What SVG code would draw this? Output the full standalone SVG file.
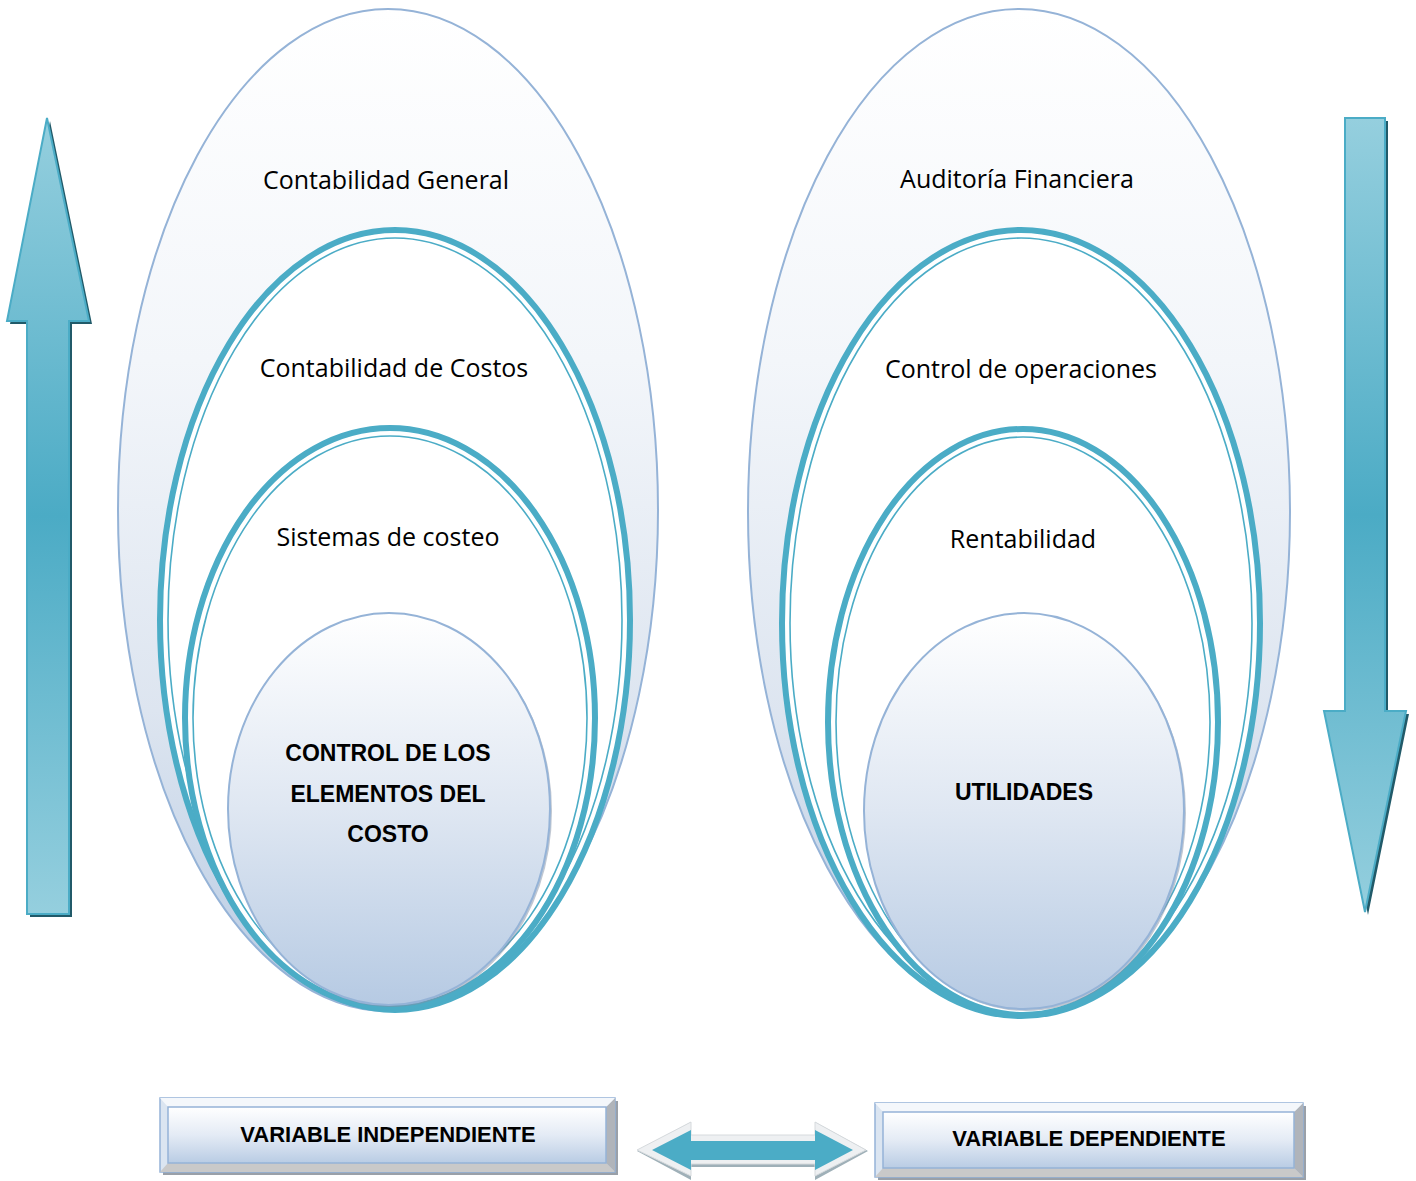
<svg xmlns="http://www.w3.org/2000/svg" width="1416" height="1181" viewBox="0 0 1416 1181">
<defs>
<linearGradient id="gOuter" x1="0" y1="0" x2="0" y2="1">
<stop offset="0" stop-color="#ffffff"/>
<stop offset="0.35" stop-color="#f3f6fa"/>
<stop offset="0.7" stop-color="#dde5f0"/>
<stop offset="1" stop-color="#b8cbe3"/>
</linearGradient>
<linearGradient id="gInner" x1="0" y1="0" x2="0" y2="1">
<stop offset="0" stop-color="#ffffff"/>
<stop offset="0.5" stop-color="#dfe7f2"/>
<stop offset="1" stop-color="#b6cae3"/>
</linearGradient>
<linearGradient id="gArrow" x1="0" y1="0" x2="0" y2="1">
<stop offset="0" stop-color="#95cfde"/>
<stop offset="0.5" stop-color="#4babc5"/>
<stop offset="1" stop-color="#95cfde"/>
</linearGradient>
<linearGradient id="gBox" x1="0" y1="0" x2="0" y2="1">
<stop offset="0" stop-color="#ffffff"/>
<stop offset="0.5" stop-color="#e4ebf5"/>
<stop offset="1" stop-color="#b9cce4"/>
</linearGradient>
<style>
.outer{fill:url(#gOuter);stroke:#95b3d7;stroke-width:2}
.dbl{fill:#ffffff;stroke:#4bacc6;stroke-width:6}
.dblin{fill:none;stroke:#4bacc6;stroke-width:1.6}
.inner{fill:url(#gInner);stroke:#95b3d7;stroke-width:2}
.lbl{font-family:"Open Sans","Liberation Sans",Arial,sans-serif;font-size:25px;fill:#000;text-anchor:middle}
.bold{font-family:"Liberation Sans",Arial,sans-serif;font-size:23px;font-weight:bold;fill:#000;text-anchor:middle}
.boxt{font-family:"Liberation Sans",Arial,sans-serif;font-size:22px;font-weight:bold;fill:#000;text-anchor:middle}
.arrow{fill:url(#gArrow);stroke:#4bacc6;stroke-width:2}
.shadow{fill:#215a69}
</style>
</defs>

<g id="arrow-up">
<polygon class="shadow" points="50,121 92,324 72,324 72,917 30,917 30,324 10,324"/>
<polygon class="arrow" points="47,118 89,321 69,321 69,914 27,914 27,321 7,321"/>
</g>

<g id="arrow-down">
<polygon class="shadow" points="1348,121 1388,121 1388,714 1409,714 1368,915 1327,714 1348,714"/>
<polygon class="arrow" points="1345,118 1385,118 1385,711 1406,711 1365,912 1324,711 1345,711"/>
</g>

<g id="left-contabilidad-general">
<ellipse class="outer" cx="388" cy="510" rx="270" ry="501"/>
<text class="lbl" x="386" y="189">Contabilidad General</text>
</g>
<g id="left-contabilidad-costos">
<ellipse class="dbl" cx="395" cy="620" rx="235" ry="390"/>
<ellipse class="dblin" cx="395" cy="620" rx="227" ry="382"/>
<text class="lbl" x="394" y="377">Contabilidad de Costos</text>
</g>
<g id="left-sistemas-costeo">
<ellipse class="dbl" cx="390" cy="718" rx="205" ry="290"/>
<ellipse class="dblin" cx="390" cy="718" rx="197" ry="282"/>
<text class="lbl" x="388" y="546">Sistemas de costeo</text>
</g>
<g id="left-control">
<ellipse cx="391" cy="811" rx="161" ry="196" fill="#7f8fa6" opacity="0.5"/>
<ellipse class="inner" cx="389" cy="809" rx="161" ry="196"/>
<text class="bold" x="388" y="761">CONTROL DE LOS</text>
<text class="bold" x="388" y="802">ELEMENTOS DEL</text>
<text class="bold" x="388" y="842">COSTO</text>
</g>

<g id="right-auditoria">
<ellipse class="outer" cx="1019" cy="512" rx="271" ry="503"/>
<text class="lbl" x="1017" y="188">Auditoría Financiera</text>
</g>
<g id="right-control-operaciones">
<ellipse class="dbl" cx="1021" cy="623" rx="239" ry="393"/>
<ellipse class="dblin" cx="1021" cy="623" rx="231" ry="385"/>
<text class="lbl" x="1021" y="378">Control de operaciones</text>
</g>
<g id="right-rentabilidad">
<ellipse class="dbl" cx="1023" cy="722" rx="195" ry="293"/>
<ellipse class="dblin" cx="1023" cy="722" rx="187" ry="285"/>
<text class="lbl" x="1023" y="548">Rentabilidad</text>
</g>
<g id="right-utilidades">
<ellipse cx="1026" cy="813" rx="160" ry="198" fill="#7f8fa6" opacity="0.5"/>
<ellipse class="inner" cx="1024" cy="811" rx="160" ry="198"/>
<text class="bold" x="1024" y="800">UTILIDADES</text>
</g>

<g id="box-independiente">
<rect x="163" y="1101" width="455" height="74" fill="#9aa0a8"/>
<rect x="160" y="1098" width="455" height="74" fill="#dbe5f1" stroke="#95b3d7" stroke-width="1.5"/>
<polygon points="160,1172 615,1172 606,1163 168,1163" fill="#c9c9c9"/>
<polygon points="615,1098 615,1172 606,1163 606,1107" fill="#b0b4ba"/>
<polygon points="160,1098 615,1098 606,1107 168,1107" fill="#f4f7fb"/>
<rect x="168" y="1107" width="438" height="56" fill="url(#gBox)" stroke="#95b3d7" stroke-width="1.5"/>
<text class="boxt" x="388" y="1142">VARIABLE INDEPENDIENTE</text>
</g>

<g id="box-dependiente">
<rect x="878" y="1106" width="428" height="74" fill="#9aa0a8"/>
<rect x="875" y="1103" width="428" height="74" fill="#dbe5f1" stroke="#95b3d7" stroke-width="1.5"/>
<polygon points="875,1177 1303,1177 1294,1168 883,1168" fill="#c9c9c9"/>
<polygon points="1303,1103 1303,1177 1294,1168 1294,1112" fill="#b0b4ba"/>
<polygon points="875,1103 1303,1103 1294,1112 883,1112" fill="#f4f7fb"/>
<rect x="883" y="1112" width="411" height="56" fill="url(#gBox)" stroke="#95b3d7" stroke-width="1.5"/>
<text class="boxt" x="1089" y="1146">VARIABLE DEPENDIENTE</text>
</g>

<g id="connectors">
<g id="double-arrow">
<polygon points="637,1151 691,1122 691,1135 815,1135 815,1122 868,1151 815,1180 815,1167 691,1167 691,1180" fill="#9fb0b8"/>
<polygon points="637,1150 691,1122 691,1135 815,1135 815,1122 866,1150 815,1176 815,1164 691,1164 691,1176" fill="#eef0f2" stroke="#d6dadd" stroke-width="1"/>
<polygon points="652,1150 691,1130 691,1141 815,1141 815,1130 853,1150 815,1170 815,1160 691,1160 691,1170" fill="#4bacc6"/>
</g>
</g>
</svg>
